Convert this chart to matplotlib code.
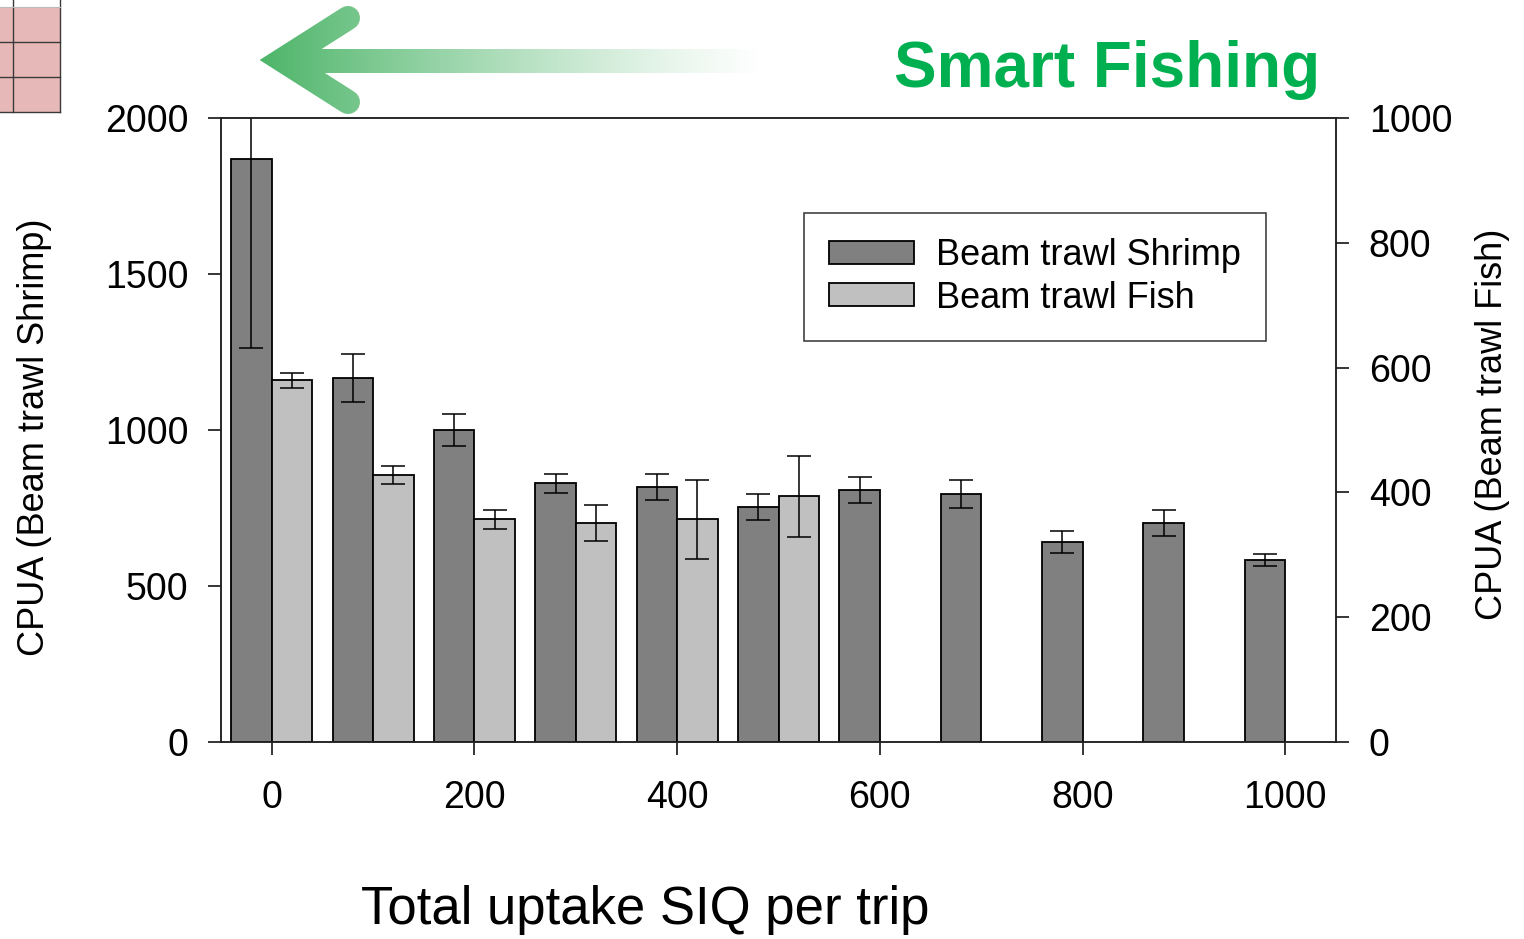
import numpy as np
import matplotlib.pyplot as plt
from matplotlib.lines import Line2D
from matplotlib.patches import Patch, Rectangle

plt.rcParams['font.family'] = ['Liberation Sans', 'DejaVu Sans']

# data
siq = [0, 100, 200, 300, 400, 500, 600, 700, 800, 900, 1000]
shrimp = [1870, 1166, 1000, 829, 818, 754, 808, 795, 641, 702, 583]
shrimp_err = [606, 77, 51, 30, 41, 41, 41, 45, 36, 41, 18]

siq_fish = [0, 100, 200, 300, 400, 500]
fish = [580, 428, 357, 351, 357, 394]
fish_err = [12, 14, 15, 29, 63, 65]

W, H = 1524, 939
fig = plt.figure(figsize=(W / 100, H / 100), dpi=100)

# decoration layer in pixel coordinates (arrow, table corner)
ax0 = fig.add_axes([0, 0, 1, 1], zorder=0)
ax0.axis('off')

green = (0.30, 0.71, 0.41)
ax0.add_patch(Rectangle((290, 49), 470, 24, facecolor=green, edgecolor='none', zorder=1))
ax0.add_line(Line2D([348, 282, 348], [18, 60, 102], color=green, lw=17.3, zorder=2,
                    solid_joinstyle='miter', solid_capstyle='round'))
# white fade laid over the arrow so it goes from green to nothing
xs = np.linspace(250, 800, 600)
f = np.clip((xs - 258) / (760 - 258), 0, 1)
grad = np.ones((1, len(xs), 4))
grad[0, :, 3] = 1 - (1 - f) ** 1.2
ax0.imshow(grad, extent=(250, 800, 116, 2), aspect='auto', interpolation='bilinear',
           zorder=5)

ax0.add_patch(Rectangle((0, 7), 60, 105, facecolor='#e6b8b7', edgecolor='none'))
for xv in [13, 60]:
    ax0.plot([xv, xv], [0, 112], color='#3a3a3a', lw=1)
for yv in [42, 77, 112]:
    ax0.plot([0, 60], [yv, yv], color='#3a3a3a', lw=1)
ax0.plot([0, 60], [7, 7], color='#bbbbbb', lw=0.8)

ax0.set_xlim(0, W)
ax0.set_ylim(H, 0)

# main chart
ax = fig.add_axes([221 / W, 1 - 742 / H, (1336 - 221) / W, (742 - 118) / H], zorder=2)
ax.patch.set_alpha(0)
ax2 = ax.twinx()

ek = dict(elinewidth=1.1, capthick=1.1, ecolor='black')
ax.bar(np.array(siq) - 20, shrimp, width=40, color='#808080', edgecolor='black',
       linewidth=1.3, yerr=shrimp_err, capsize=8.5, error_kw=ek)
ax2.bar(np.array(siq_fish) + 20, fish, width=40, color='#c0c0c0', edgecolor='black',
        linewidth=1.3, yerr=fish_err, capsize=8.5, error_kw=ek)

ax.set_xlim(-50, 1050)
ax.set_ylim(0, 2000)
ax2.set_ylim(0, 1000)
ax.set_xticks(range(0, 1001, 200))
ax.set_yticks(range(0, 2001, 500))
ax2.set_yticks(range(0, 1001, 200))

for a in (ax, ax2):
    a.tick_params(direction='out', length=9.5, width=1.1, labelsize=27, pad=14)
    for s in a.spines.values():
        s.set_linewidth(1.1)
        s.set_color('#222222')
ax.tick_params(axis='x', pad=18)

fig.text(35 / W, 1 - 437 / H, 'CPUA (Beam trawl Shrimp)', rotation=90,
         ha='center', va='center', fontsize=26)
fig.text(1492 / W, 1 - 424 / H, 'CPUA (Beam trawl Fish)', rotation=90,
         ha='center', va='center', fontsize=26)
fig.text(645 / W, 1 - 910 / H, 'Total uptake SIQ per trip', ha='center', va='center',
         fontsize=38)
fig.text(1320 / W, 1 - 87 / H, 'Smart Fishing', ha='right', va='baseline',
         fontsize=46, fontweight='bold', color='#00b050')

handles = [Patch(facecolor='#808080', edgecolor='black', linewidth=1.3),
           Patch(facecolor='#c0c0c0', edgecolor='black', linewidth=1.3)]
leg = ax2.legend(handles, ['Beam trawl Shrimp', 'Beam trawl Fish'], loc='upper left',
                 bbox_to_anchor=(804 / W, 1 - 213 / H), bbox_transform=fig.transFigure,
                 fontsize=26, frameon=True, fancybox=False, borderpad=0.7,
                 labelspacing=0.2, handlelength=2.36, handleheight=0.6,
                 handletextpad=0.6, borderaxespad=0)
leg.get_frame().set_edgecolor('black')
leg.get_frame().set_linewidth(1.1)

fig.savefig('out.png', dpi=100)
